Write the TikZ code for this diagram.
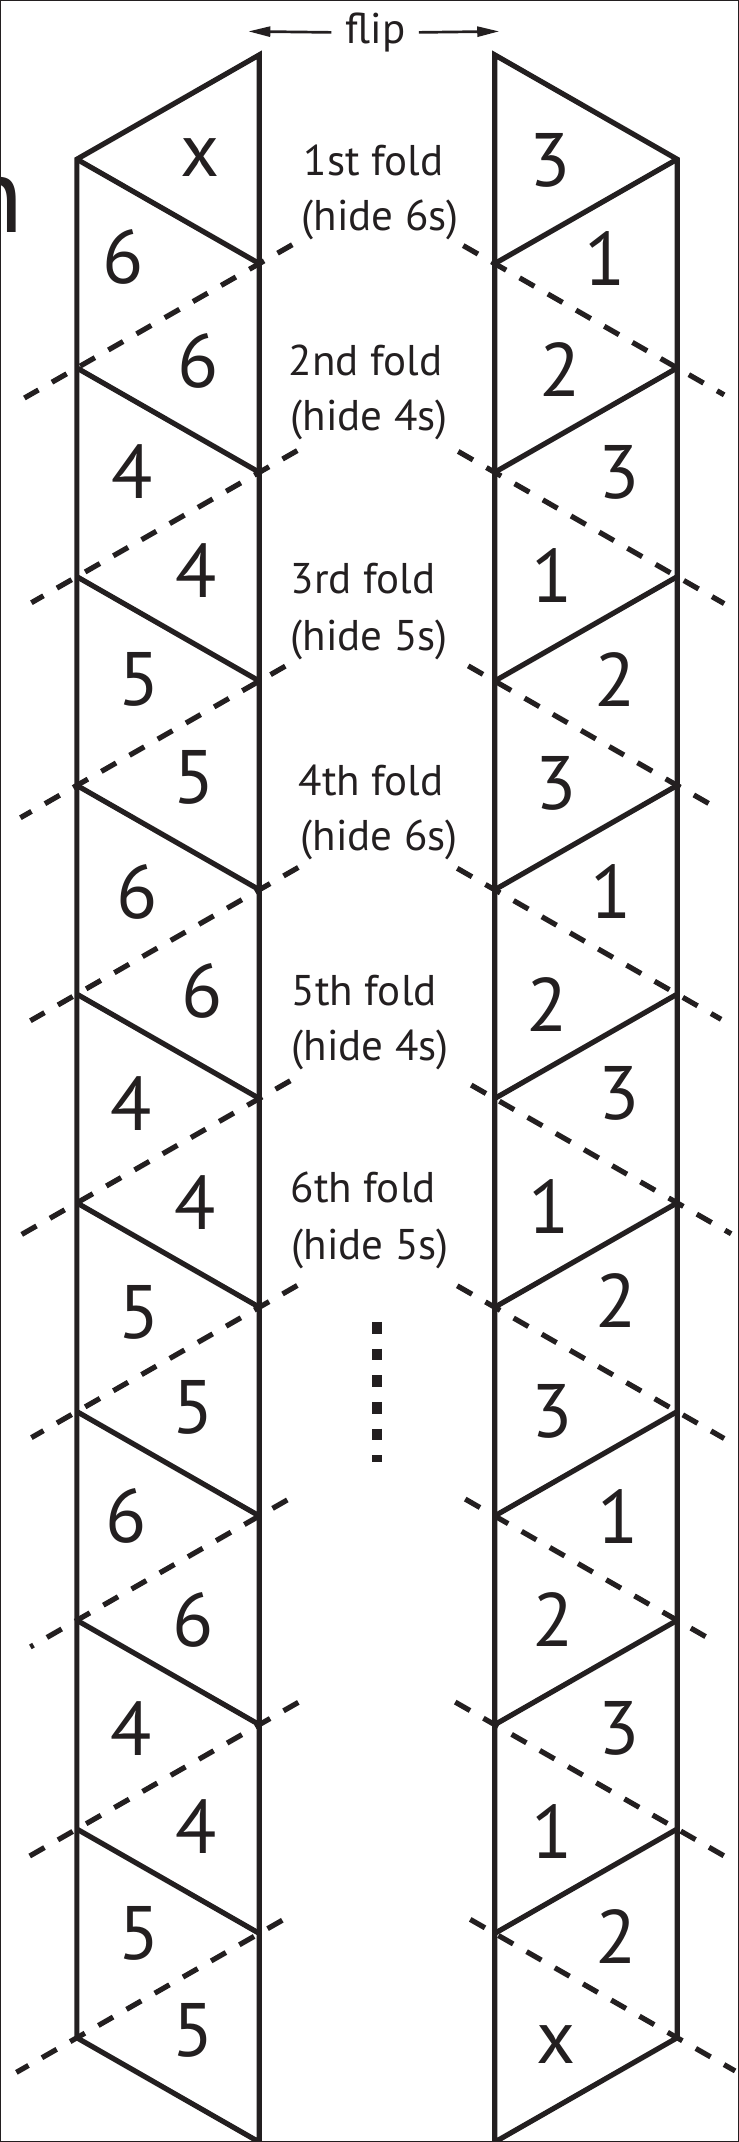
\documentclass[tikz,border=0pt]{standalone}
\usepackage{fontspec}
\setmainfont{PT Sans}
\usetikzlibrary{arrows.meta,calc}
\definecolor{ink}{RGB}{35,31,32}

\begin{document}
\begin{tikzpicture}[x=0.5pt,y=-0.5pt,
  every path/.style={draw=ink},
  strip/.style={line width=2.6pt, line join=miter},
  crease/.style={line width=2.6pt, dash pattern=on 8.5pt off 7.75pt},
  face/.style={inner sep=0pt, text=ink, font=\fontsize{37.9}{40}\selectfont},
  caption/.style={inner sep=0pt, anchor=base west, text=ink, font=\fontsize{21.5}{26}\selectfont},
  fliparrow/.style={line width=1.35pt, -{Triangle[length=11pt,width=5pt]}},
]
\useasboundingbox (0,0) rectangle (738,2142);

% corner points of the two strips
\foreach \k in {0,...,10} {
  \coordinate (R\k) at (259, {54.5+208.8*\k});
  \coordinate (Q\k) at (494.5, {54.5+208.8*\k});
}
\foreach \k in {0,...,9} {
  \coordinate (L\k) at (76.5, {158.9+208.8*\k});
  \coordinate (S\k) at (677, {158.9+208.8*\k});
}

% left strip: outline and solid edges
\draw[strip] (R0) -- (R10) -- (L9) -- (L0) -- cycle;
\foreach \k [count=\n from 1] in {0,...,8} \draw[strip] (L\k) -- (R\n);

% right strip: outline and solid edges
\draw[strip] (Q0) -- (Q10) -- (S9) -- (S0) -- cycle;
\foreach \k [count=\n from 1] in {0,...,8} \draw[strip] (S\k) -- (Q\n);

% fold creases of the left strip, running past both edges
\foreach \k/\xa/\xb in {1/292/24, 2/297/31, 3/285/20, 4/298/30, 5/290/14,
                        6/297/31, 7/287/30, 8/298/20, 9/282/16} {
  \pgfmathsetmacro{\fa}{(\xa-259)/(76.5-259)}
  \pgfmathsetmacro{\fb}{(\xb-259)/(76.5-259)}
  \coordinate (ca\k) at ($(R\k)!\fa!(L\k)$);
  \coordinate (cb\k) at ($(R\k)!\fb!(L\k)$);
  \draw[crease] (ca\k) -- (cb\k);
}

% fold creases of the right strip
\foreach \k/\xa/\xb in {1/463/724, 2/458/724, 3/468/717, 4/457/721, 5/471/731,
                        6/457/724, 7/465/717, 8/455/724, 9/470/735} {
  \pgfmathsetmacro{\fa}{(\xa-494.5)/(677-494.5)}
  \pgfmathsetmacro{\fb}{(\xb-494.5)/(677-494.5)}
  \coordinate (da\k) at ($(Q\k)!\fa!(S\k)$);
  \coordinate (db\k) at ($(Q\k)!\fb!(S\k)$);
  \draw[crease] (da\k) -- (db\k);
}

% faces of the left strip
\foreach \x/\y/\t [count=\i] in {
  200/157/x, 123/257/6, 198/361/6, 132/471/4, 196/570/4, 139/679/5, 194/777/5,
  137/892/6, 202/991/6, 131/1104/4, 195/1203/4, 139/1313/5, 193/1408/5,
  126/1516/6, 193/1620/6, 131/1729/4, 196/1827/4, 139/1934/5, 193/2031/5} {
  \node[face] (lf\i) at (\x,\y) {\t};
}

% faces of the right strip
\foreach \x/\y/\t [count=\i] in {
  550/160/3, 605/258/1, 560/369/2, 619/472/3, 552/575/1, 615/679/2, 556/783/3,
  611/891/1, 547/1004/2, 619/1093/3, 549/1207/1, 616/1301/2, 552/1412/3,
  618/1517/1, 553/1620/2, 619/1729/3, 552/1832/1, 616/1937/2, 556/2045/x} {
  \node[face] (rf\i) at (\x,\y) {\t};
}

% fold captions
\node[caption] (fold1) at (303,175) {1st fold};
\node[caption] (hide1) at (301,230) {(hide 6s)};
\node[caption] (fold2) at (288,375) {2nd fold};
\node[caption] (hide2) at (290,430) {(hide 4s)};
\node[caption] (fold3) at (290,593) {3rd fold};
\node[caption] (hide3) at (290,650) {(hide 5s)};
\node[caption] (fold4) at (298,795) {4th fold};
\node[caption] (hide4) at (300,850) {(hide 6s)};
\node[caption] (fold5) at (291,1005) {5th fold};
\node[caption] (hide5) at (291,1060) {(hide 4s)};
\node[caption] (fold6) at (290,1203) {6th fold};
\node[caption] (hide6) at (291,1260) {(hide 5s)};

% continuation dots
\coordinate (dotA) at (376.5,1322);
\coordinate (dotB) at (376.5,1462);
\draw[line width=5.2pt, dash pattern=on 5.85pt off 7.5pt] (dotA) -- (dotB);

% flip marker
\node[caption] (flip) at (345,43) {flip};
\coordinate (tipL) at (248,31);
\coordinate (tipR) at (499,31);
\draw[fliparrow] ([xshift=-7pt]flip.west) -- (tipL);
\draw[fliparrow] ([xshift=6.5pt]flip.east) -- (tipR);

% tail of a heading letter at the left margin
\node[inner sep=0pt, anchor=base east, text=ink, font=\fontsize{54}{60}\selectfont] (head) at (24,232) {n};
\end{tikzpicture}
\end{document}
